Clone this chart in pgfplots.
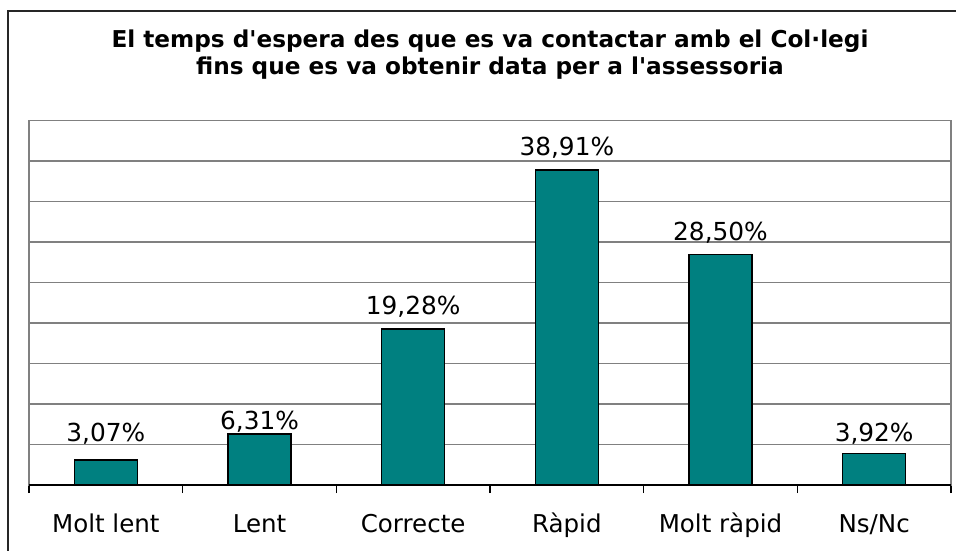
\documentclass[border=0pt]{standalone}
\usepackage{fontspec}
\setmainfont{DejaVu Sans}
\usepackage{pgfplots}
\usepackage{pgfplotstable}
\pgfplotsset{compat=1.18}
\definecolor{barteal}{RGB}{0,128,128}
\definecolor{gridgray}{RGB}{128,128,128}
\pgfplotstableread{
x y off
0.5 3.07 13.8
1.5 6.31 3.0
2.5 19.28 10.5
3.5 38.91 10.7
4.5 28.50 10.7
5.5 3.92 9.0
}\datatable
\begin{document}
\begin{tikzpicture}
\useasboundingbox (0,0) rectangle (717pt,412.5pt);
\draw[black!85, line width=1.1pt] (6pt,-2pt) -- (6pt,404.25pt) -- (720pt,404.25pt);
\node[anchor=base, font=\bfseries\fontsize{17.4}{20}\selectfont, inner sep=0pt] at (367.5pt,376.7pt) {El temps d\textquotesingle espera des que es va contactar amb el Col·legi};
\node[anchor=base, font=\bfseries\fontsize{17.4}{20}\selectfont, inner sep=0pt] at (367.5pt,356.25pt) {fins que es va obtenir data per a l\textquotesingle assessoria};
\begin{axis}[
  at={(21.75pt,48.75pt)}, anchor=south west,
  scale only axis, width=691.5pt, height=273.2pt,
  xmin=0, xmax=6, ymin=0, ymax=45,
  ytick={0,5,...,45}, yticklabels={},
  ymajorgrids, grid style={gridgray, line width=1.1pt},
  axis line style={gridgray, line width=1.1pt},
  major y tick style={draw=none},
  xtick={0.5,1.5,2.5,3.5,4.5,5.5},
  xticklabels={Molt lent,Lent,Correcte,Ràpid,Molt ràpid,Ns/Nc},
  major x tick style={draw=none},
  minor xtick={0,1,2,3,4,5,6},
  minor tick length=6pt,
  tick align=outside,
  xtick pos=bottom, ytick pos=left,
  minor x tick style={black, line width=0.8pt},
  xticklabel style={anchor=base, yshift=-31.5pt, inner sep=0pt, font=\fontsize{18.4}{20}\selectfont},
  ybar, bar width=47.25pt,
  visualization depends on={\thisrow{off} \as \myoff},
  nodes near coords={\pgfmathprintnumber[fixed,fixed zerofill,precision=2,use comma,assume math mode=true]{\pgfplotspointmeta}\%},
  every node near coord/.append style={anchor=base, yshift=\myoff pt, inner sep=0pt, font=\fontsize{18.6}{20}\selectfont, black},
  clip=false,
]
\addplot[fill=barteal, draw=black, line width=1.1pt] table[x=x, y=y] {\datatable};
\draw[black, line width=1.1pt] (rel axis cs:0,0) -- (rel axis cs:1,0);
\end{axis}
\end{tikzpicture}
\end{document}
